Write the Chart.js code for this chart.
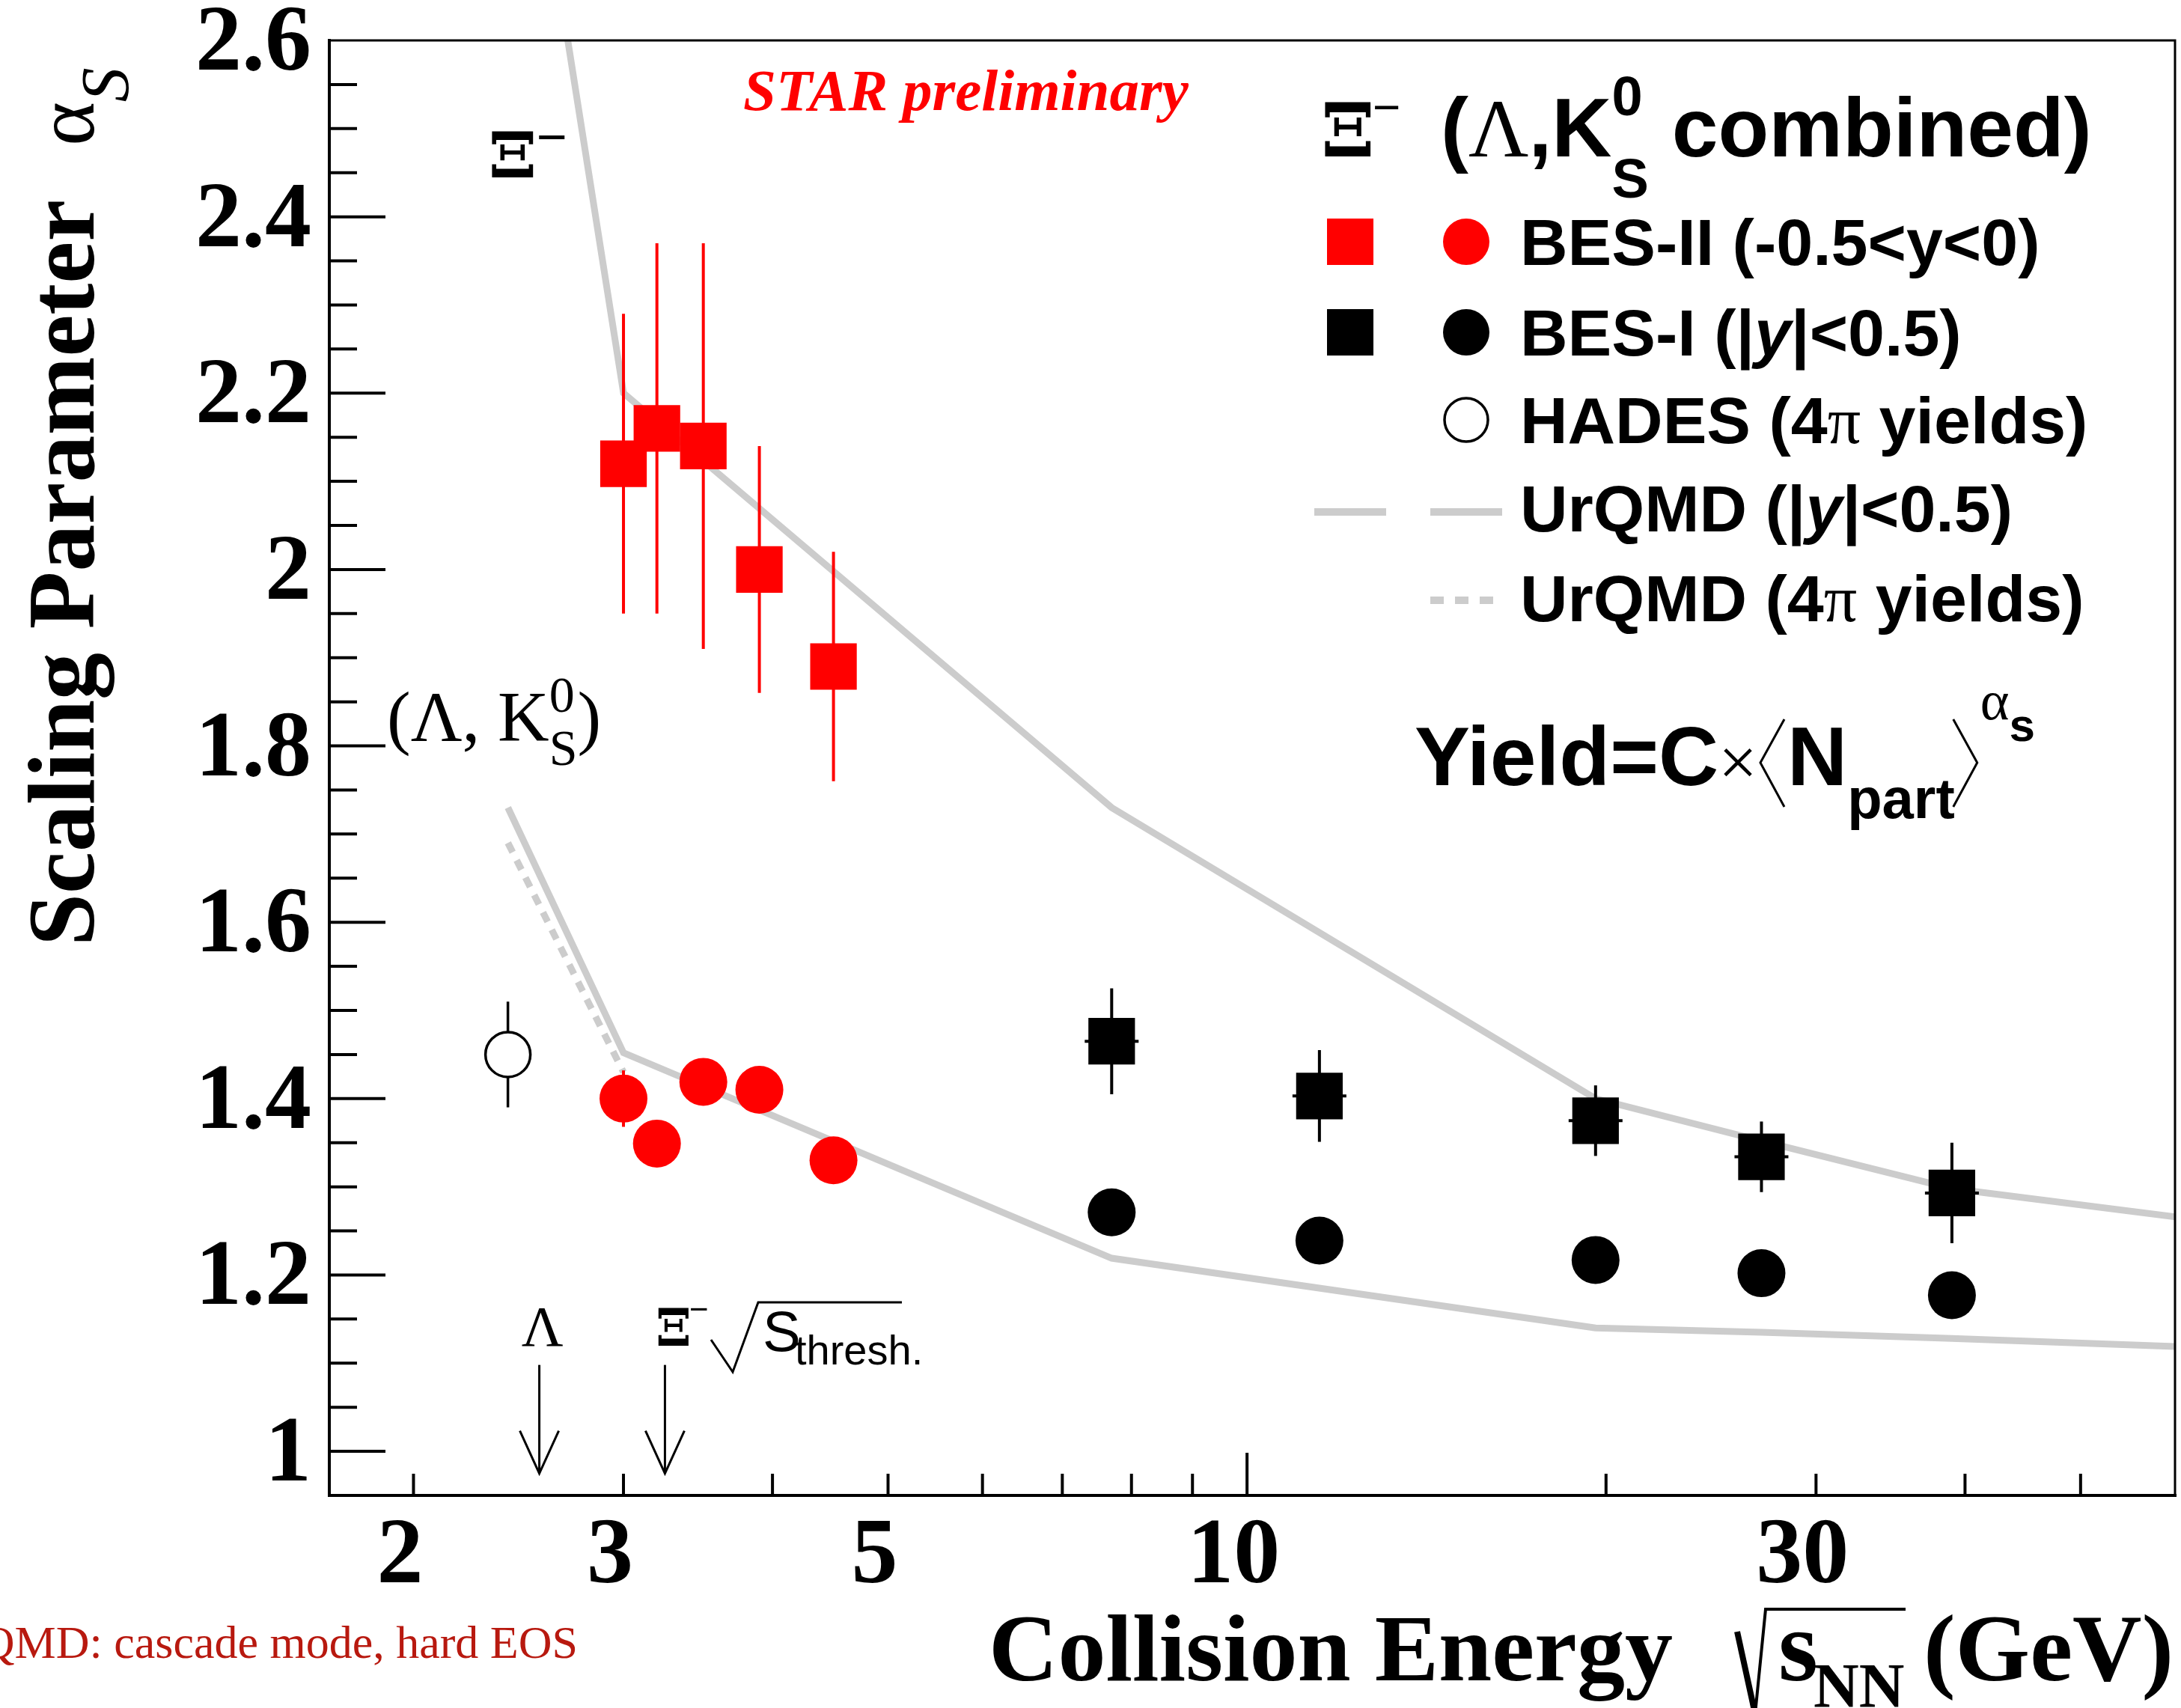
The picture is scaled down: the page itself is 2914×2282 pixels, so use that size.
<!DOCTYPE html>
<html>
<head>
<meta charset="UTF-8">
<title>Strangeness scaling parameter vs collision energy</title>
<script src="https://cdn.jsdelivr.net/npm/chart.js"></script>
<style>
    html, body { margin: 0; padding: 0; background: #fff; }
    #chart { display: block; }
</style>
</head>
<body>
<canvas id="chart" width="2914" height="2282"></canvas>
<script>
    // collision energies sqrt(s_NN) in GeV
    const besIIEnergy = [3.0, 3.2, 3.5, 3.9, 4.5];
    const besIEnergy = [7.7, 11.5, 19.6, 27, 39];
    const hadesEnergy = [2.4];
    const urqmdEnergy = [2.4, 3.0, 7.7, 19.6, 27, 39, 62.4];
    const urqmd4piEnergy = [2.4, 3.0];

    // alpha_s for Xi-
    const besIIXi = [2.12, 2.16, 2.14, 2.00, 1.89];
    const besIIXiErr = [0.17, 0.21, 0.23, 0.14, 0.13];
    const besIXi = [1.465, 1.403, 1.375, 1.334, 1.293];
    const besIXiErr = [0.06, 0.052, 0.04, 0.04, 0.057];

    // alpha_s for Lambda, K0S combined
    const besIILK = [1.40, 1.349, 1.419, 1.41, 1.33];
    const besIILKErr = [0.032, 0, 0, 0, 0];
    const besILK = [1.271, 1.239, 1.217, 1.202, 1.177];
    const hadesLK = [1.45];
    const hadesLKErr = [0.06];

    // UrQMD cascade curves
    const urqmdXi = [3.03, 2.20, 1.73, 1.40, 1.352, 1.298, 1.263];
    const urqmdLK = [1.73, 1.452, 1.219, 1.14, 1.135, 1.128, 1.118];
    const urqmd4piLK = [1.69, 1.43];

    // production thresholds (Lambda, Xi-) and arrow span in alpha_s
    const thresholdEnergy = [2.55, 3.25];
    const arrowSpan = [1.098, 0.975];

    // axis ticks
    const xLabelTicks = [2, 3, 5, 10, 30];
    const xTickMarks = [2, 3, 4, 5, 6, 7, 8, 9, 10, 20, 30, 40, 50];
    const xLongTicks = [10];
    const yLabelTicks = [1, 1.2, 1.4, 1.6, 1.8, 2, 2.2, 2.4, 2.6];
    const yTickMarks = [1, 1.05, 1.1, 1.15, 1.2, 1.25, 1.3, 1.35, 1.4, 1.45, 1.5, 1.55,
                        1.6, 1.65, 1.7, 1.75, 1.8, 1.85, 1.9, 1.95, 2, 2.05, 2.1, 2.15,
                        2.2, 2.25, 2.3, 2.35, 2.4, 2.45, 2.5, 2.55];

    const SERIF = '"Liberation Serif", "Times New Roman", serif';
    const SANS = '"Liberation Sans", Arial, sans-serif';
    const XI_FONT = '"DejaVu Serif", "Liberation Serif", serif';
    const RED = '#ff0000';
    const GRAY = '#cccccc';

    const toXY = (xs, ys) => xs.map((x, i) => ({ x: x, y: ys[i] }));

    // draws a row of text pieces one after the other, returns the end x
    function runs(ctx, x, y, parts) {
        for (const p of parts) {
            ctx.font = p[1];
            ctx.fillText(p[0], x, y + (p[2] || 0));
            x += ctx.measureText(p[0]).width;
        }
        return x;
    }

    // heavy serif Xi, stretched to fill a w x h box around (cx, cy)
    function xiGlyph(ctx, cx, cy, w, h) {
        ctx.save();
        ctx.font = 'bold 100px ' + XI_FONT;
        const m = ctx.measureText('Ξ');
        const gw = m.actualBoundingBoxLeft + m.actualBoundingBoxRight;
        const gh = m.actualBoundingBoxAscent + m.actualBoundingBoxDescent;
        ctx.translate(cx, cy);
        ctx.scale(w / gw, h / gh);
        ctx.textAlign = 'left';
        ctx.textBaseline = 'alphabetic';
        ctx.fillText('Ξ', -gw / 2 + m.actualBoundingBoxLeft,
                     gh / 2 - m.actualBoundingBoxDescent);
        ctx.restore();
    }

    function line(ctx, pts, w) {
        ctx.lineWidth = w;
        ctx.beginPath();
        ctx.moveTo(pts[0][0], pts[0][1]);
        for (let i = 1; i < pts.length; i++) ctx.lineTo(pts[i][0], pts[i][1]);
        ctx.stroke();
    }

    // vertical error bars, drawn just under each marker dataset
    const errorBarPlugin = {
        id: 'errorBars',
        beforeDatasetDraw(chart, args) {
            const ds = chart.data.datasets[args.index];
            if (!ds.errorBars) return;
            const ctx = chart.ctx;
            const ys = chart.scales.y;
            ctx.save();
            ctx.strokeStyle = ds.errorColor;
            ctx.lineWidth = ds.errorWidth;
            args.meta.data.forEach((pt, i) => {
                const e = ds.errorBars[i];
                const v = ds.data[i].y;
                if (e > 0) {
                    ctx.beginPath();
                    ctx.moveTo(pt.x, ys.getPixelForValue(v + e));
                    ctx.lineTo(pt.x, ys.getPixelForValue(v - e));
                    ctx.stroke();
                }
                if (ds.errorHTick) {
                    ctx.beginPath();
                    ctx.moveTo(pt.x - ds.errorHTick, pt.y);
                    ctx.lineTo(pt.x + ds.errorHTick, pt.y);
                    ctx.stroke();
                }
            });
            ctx.restore();
        }
    };

    // frame, inner ticks, titles, legend and annotations
    const decorPlugin = {
        id: 'decor',
        afterDraw(chart) {
            const ctx = chart.ctx;
            const a = chart.chartArea;
            const xs = chart.scales.x;
            const ys = chart.scales.y;
            ctx.save();
            ctx.strokeStyle = '#000';
            ctx.fillStyle = '#000';
            ctx.lineCap = 'butt';

            // frame
            line(ctx, [[a.left, a.top], [a.right, a.top], [a.right, a.bottom]], 3);
            line(ctx, [[a.left, a.top - 2], [a.left, a.bottom], [a.right + 2, a.bottom]], 4);

            // ticks pointing into the frame
            yTickMarks.forEach(v => {
                const py = ys.getPixelForValue(v);
                const len = yLabelTicks.includes(v) ? 75 : 37;
                line(ctx, [[a.left, py], [a.left + len, py]], 4);
            });
            xTickMarks.forEach(v => {
                const px = xs.getPixelForValue(v);
                const len = xLongTicks.includes(v) ? 57 : 29;
                line(ctx, [[px, a.bottom], [px, a.bottom - len]], 4);
            });

            ctx.textAlign = 'left';
            ctx.textBaseline = 'alphabetic';

            // y title
            ctx.save();
            ctx.translate(125, 1264);
            ctx.rotate(-Math.PI / 2);
            let tx = runs(ctx, 0, 0, [['Scaling Parameter', 'bold 126px ' + SERIF]]);
            runs(ctx, tx + 72, 0, [['α', '112px ' + SERIF], ['S', 'italic 92px ' + SERIF, 46]]);
            ctx.restore();

            // x title
            ctx.font = 'bold 128px ' + SERIF;
            ctx.fillText('Collision Energy', 1321, 2245);
            ctx.textAlign = 'right';
            ctx.fillText('(GeV)', 2904, 2245);
            ctx.textAlign = 'left';
            ctx.lineJoin = 'miter';
            line(ctx, [[2321, 2180], [2345, 2290]], 8);
            line(ctx, [[2345, 2290], [2359, 2150], [2546, 2150]], 4);
            runs(ctx, 2376, 2245, [['s', 'bold 136px ' + SERIF]]);
            runs(ctx, 2423, 2281, [['NN', 'bold 84px ' + SERIF]]);

            // STAR preliminary
            ctx.fillStyle = RED;
            ctx.font = 'bold italic 79px ' + SERIF;
            ctx.fillText('STAR preliminary', 993, 147);

            // model note, running off the left edge
            ctx.fillStyle = '#b8190f';
            ctx.font = '62px ' + SERIF;
            ctx.textAlign = 'right';
            ctx.fillText('UrQMD: cascade mode, hard EOS', 772, 2215);
            ctx.textAlign = 'left';
            ctx.fillStyle = '#000';

            // particle labels next to the curves
            xiGlyph(ctx, 685, 206, 56, 62);
            runs(ctx, 717, 207, [['−', '70px ' + SANS]]);
            tx = runs(ctx, 517, 990, [['(Λ, K', '95px ' + SERIF]]);
            runs(ctx, tx, 951, [['0', '68px ' + SERIF]]);
            tx = runs(ctx, tx, 1022, [['S', '68px ' + SERIF]]);
            runs(ctx, tx, 990, [[')', '95px ' + SERIF]]);

            // threshold arrows
            const ay1 = ys.getPixelForValue(arrowSpan[0]);
            const ay2 = ys.getPixelForValue(arrowSpan[1]);
            thresholdEnergy.forEach(e => {
                const px = xs.getPixelForValue(e);
                line(ctx, [[px, ay1], [px, ay2]], 3);
                line(ctx, [[px - 26, ay2 - 57], [px, ay2], [px + 26, ay2 - 57]], 3);
            });
            ctx.textAlign = 'center';
            ctx.font = '77px ' + SERIF;
            ctx.fillText('Λ', xs.getPixelForValue(thresholdEnergy[0]) + 4, 1798);
            ctx.textAlign = 'left';
            xiGlyph(ctx, 900, 1772, 41, 51);
            runs(ctx, 921, 1764, [['−', '44px ' + SANS]]);
            line(ctx, [[950, 1790], [979, 1833], [1013, 1740], [1205, 1740]], 3);
            runs(ctx, 1019, 1805, [['S', '76px ' + SANS]]);
            runs(ctx, 1062, 1823, [['thresh.', '56px ' + SANS]]);

            // legend
            const big = 'bold 111px ' + SANS;
            xiGlyph(ctx, 1801, 172, 62, 73);
            runs(ctx, 1834, 165, [['−', '64px ' + SANS]]);
            tx = runs(ctx, 1925, 209, [['(', big], ['Λ', '111px ' + SERIF], [',K', big]]);
            runs(ctx, tx, 154, [['0', 'bold 74px ' + SANS]]);
            tx = runs(ctx, tx, 264, [['S', 'bold 74px ' + SANS]]);
            runs(ctx, tx, 209, [[' combined)', big]]);

            const f = 'bold 88px ' + SANS;
            const fi = 'bold italic 88px ' + SANS;
            const rows = [323, 444, 561, 679, 799];
            // marker symbols
            ctx.fillStyle = RED;
            ctx.fillRect(1773, rows[0] - 31, 62, 62);
            ctx.beginPath(); ctx.arc(1959, rows[0], 31, 0, Math.PI * 2); ctx.fill();
            ctx.fillStyle = '#000';
            ctx.fillRect(1773, rows[1] - 31, 62, 62);
            ctx.beginPath(); ctx.arc(1959, rows[1], 31, 0, Math.PI * 2); ctx.fill();
            ctx.fillStyle = '#fff';
            ctx.beginPath(); ctx.arc(1959, rows[2], 29, 0, Math.PI * 2); ctx.fill();
            ctx.lineWidth = 3.5; ctx.stroke();
            ctx.strokeStyle = GRAY;
            line(ctx, [[1756, 684], [1852, 684]], 10);
            line(ctx, [[1911, 684], [2007, 684]], 10);
            ctx.setLineDash([18, 15]);
            line(ctx, [[1911, 802], [2007, 802]], 10);
            ctx.setLineDash([]);
            ctx.fillStyle = '#000';
            runs(ctx, 2031, rows[0] + 31, [['BES-II (-0.5<y<0)', f]]);
            runs(ctx, 2031, rows[1] + 31, [['BES-I (|', f], ['y', fi], ['|<0.5)', f]]);
            runs(ctx, 2031, rows[2] + 31, [['HADES (4', f], ['π', '88px ' + SERIF], [' yields)', f]]);
            runs(ctx, 2031, rows[3] + 31, [['UrQMD (|', f], ['y', fi], ['|<0.5)', f]]);
            runs(ctx, 2031, rows[4] + 31, [['UrQMD (4', f], ['π', '88px ' + SERIF], [' yields)', f]]);

            // scaling formula
            const fy = 'bold 111px ' + SANS;
            tx = runs(ctx, 1890, 1049, [['Yield=C', fy], ['×', '92px ' + SERIF]]);
            ctx.strokeStyle = '#000';
            line(ctx, [[tx + 36, 961], [tx + 4, 1019], [tx + 36, 1078]], 3);
            tx = runs(ctx, tx + 40, 1049, [['N', fy]]);
            tx = runs(ctx, tx, 1093, [['part', 'bold 76px ' + SANS]]);
            line(ctx, [[tx - 2, 961], [tx + 30, 1019], [tx - 2, 1078]], 3);
            runs(ctx, tx + 34, 961, [['α', '74px ' + SERIF], ['s', 'bold 62px ' + SANS, 29]]);

            ctx.restore();
        }
    };

    const ctx = document.getElementById('chart');
    const tickFont = { family: SERIF, weight: 'bold', size: 124, lineHeight: 1 };

    new Chart(ctx, {
        type: 'scatter',
        data: {
            datasets: [
                {
                    label: 'BES-II Xi',
                    data: toXY(besIIEnergy, besIIXi),
                    pointStyle: 'rect', pointRadius: 44, backgroundColor: RED, borderWidth: 0,
                    errorBars: besIIXiErr, errorColor: RED, errorWidth: 4,
                    order: 1
                },
                {
                    label: 'BES-I Xi',
                    data: toXY(besIEnergy, besIXi),
                    pointStyle: 'rect', pointRadius: 44, backgroundColor: '#000', borderWidth: 0,
                    errorBars: besIXiErr, errorColor: '#000', errorWidth: 4, errorHTick: 36,
                    order: 2
                },
                {
                    label: 'BES-II Lambda K0S',
                    data: toXY(besIIEnergy, besIILK),
                    pointStyle: 'circle', pointRadius: 32, backgroundColor: RED, borderWidth: 0,
                    errorBars: besIILKErr, errorColor: RED, errorWidth: 4,
                    order: 3
                },
                {
                    label: 'BES-I Lambda K0S',
                    data: toXY(besIEnergy, besILK),
                    pointStyle: 'circle', pointRadius: 32, backgroundColor: '#000', borderWidth: 0,
                    order: 4
                },
                {
                    label: 'HADES',
                    data: toXY(hadesEnergy, hadesLK),
                    pointStyle: 'circle', pointRadius: 30, backgroundColor: '#fff',
                    borderColor: '#000', borderWidth: 3.5,
                    errorBars: hadesLKErr, errorColor: '#000', errorWidth: 3.5,
                    order: 5
                },
                {
                    label: 'UrQMD Xi',
                    data: toXY(urqmdEnergy, urqmdXi),
                    showLine: true, borderColor: GRAY, borderWidth: 9, pointRadius: 0,
                    order: 10
                },
                {
                    label: 'UrQMD Lambda K0S',
                    data: toXY(urqmdEnergy, urqmdLK),
                    showLine: true, borderColor: GRAY, borderWidth: 9, pointRadius: 0,
                    order: 11
                },
                {
                    label: 'UrQMD 4pi Lambda K0S',
                    data: toXY(urqmd4piEnergy, urqmd4piLK),
                    showLine: true, borderColor: GRAY, borderWidth: 9, borderDash: [14, 12],
                    pointRadius: 0,
                    order: 12
                }
            ]
        },
        options: {
            responsive: false,
            devicePixelRatio: 1,
            animation: false,
            layout: { autoPadding: false, padding: { top: 54, right: 8, left: 0, bottom: 0 } },
            plugins: {
                legend: { display: false },
                tooltip: { enabled: false }
            },
            scales: {
                x: {
                    type: 'logarithmic',
                    min: 1.7,
                    max: 60,
                    afterBuildTicks: s => { s.ticks = xLabelTicks.map(v => ({ value: v })); },
                    afterFit: s => { s.height = 284; s.paddingLeft = 0; s.paddingRight = 0; },
                    grid: { display: false },
                    border: { display: false },
                    ticks: {
                        autoSkip: false, maxRotation: 0, minRotation: 0,
                        padding: 14, labelOffset: -18,
                        color: '#000', font: tickFont,
                        callback: v => String(v)
                    }
                },
                y: {
                    type: 'linear',
                    min: 0.95,
                    max: 2.6,
                    afterBuildTicks: s => { s.ticks = yLabelTicks.map(v => ({ value: v })); },
                    afterFit: s => { s.width = 440; s.paddingTop = 0; s.paddingBottom = 0; },
                    grid: { display: false },
                    border: { display: false },
                    ticks: {
                        autoSkip: false, padding: 16, labelOffset: 7,
                        color: '#000', font: tickFont,
                        callback: v => String(v)
                    }
                }
            }
        },
        plugins: [errorBarPlugin, decorPlugin]
    });
</script>
</body>
</html>
